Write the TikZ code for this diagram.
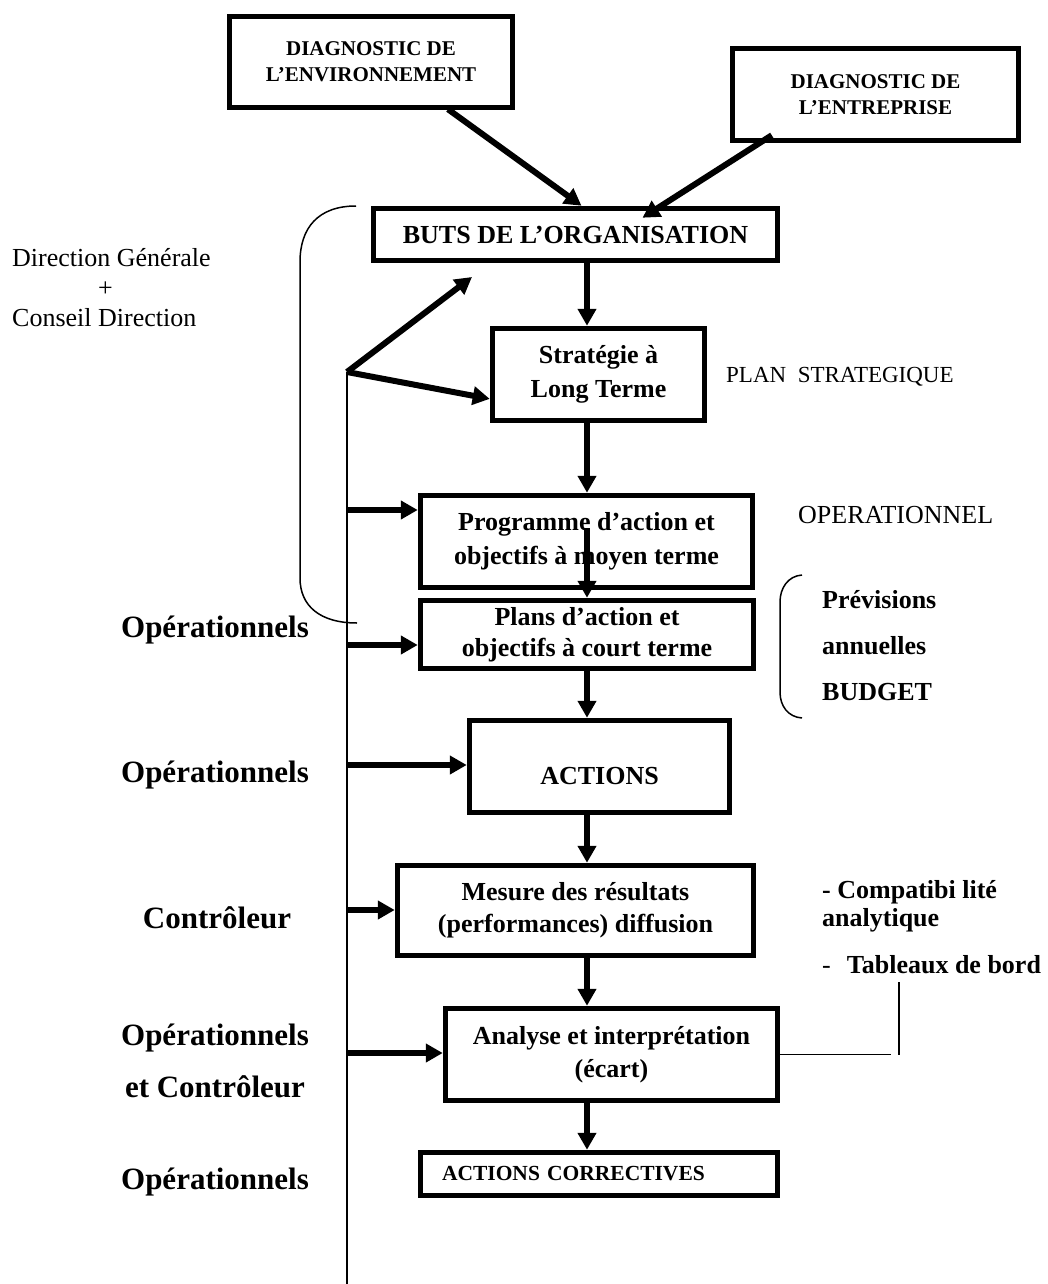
\documentclass[tikz,border=0pt]{standalone}
\usepackage{fontspec}
\setmainfont{Liberation Serif}
\usetikzlibrary{arrows.meta,positioning,calc}

\begin{document}
\begin{tikzpicture}[
    x=1pt, y=-1pt,
    box/.style={draw, line width=5.5pt, align=center, inner sep=0pt, font=\bfseries\fontsize{26}{33}\selectfont},
    diag/.style={draw, line width=5.5pt, align=center, inner sep=0pt, font=\bfseries\fontsize{21}{26}\selectfont},
    who/.style={font=\bfseries\fontsize{31}{52}\selectfont, align=center},
    note/.style={anchor=west, align=left, inner sep=0pt},
    arr/.style={-{Triangle[length=17pt,width=18pt]}, line width=6pt},
    fine/.style={line width=1.5pt},
]
\useasboundingbox (0,0) rectangle (1047,1284);

\node[diag, minimum width=283pt, minimum height=91pt] (env) at (371,62) {DIAGNOSTIC DE\\L’ENVIRONNEMENT};
\node[diag, minimum width=286pt, minimum height=92pt] (ent) at (875.5,94.5) {DIAGNOSTIC DE\\L’ENTREPRISE};
\node[box, minimum width=404pt, minimum height=52pt] (buts) at (575.5,234.5) {BUTS DE L’ORGANISATION};
\node[box, minimum width=212pt, minimum height=92pt, font=\bfseries\fontsize{26}{34}\selectfont] (strat) at (598.5,374.5) {Stratégie à\\Long Terme};
\node[box, minimum width=332pt, minimum height=92pt, font=\bfseries\fontsize{26}{34}\selectfont] (prog) at (586.5,541.5) {Programme d’action et\\objectifs à moyen terme};
\node[box, minimum width=333pt, minimum height=68pt, font=\bfseries\fontsize{26}{31}\selectfont] (plans) at (587,634.5) {Plans d’action et\\objectifs à court terme};
\node[box, minimum width=260pt, minimum height=92pt] (act) at (599.5,766.5) {\raisebox{-10pt}[\height][\depth]{ACTIONS}};
\node[box, minimum width=356pt, minimum height=90pt, font=\bfseries\fontsize{26}{32}\selectfont] (mes) at (575.5,910.5) {Mesure des résultats\\(performances) diffusion};
\node[box, minimum width=332pt, minimum height=92pt] (ana) at (611.5,1054.5) {Analyse et interprétation\\(écart)};
\node[box, minimum height=43pt, text width=314pt, align=left, inner xsep=21.5pt, font=\bfseries\fontsize{21.5}{24}\selectfont] (corr) at (599,1174) {ACTIONS CORRECTIVES};

\node[note, font=\fontsize{26}{30}\selectfont] (dg) at (12,288) {Direction Générale\\\hspace*{86pt}+\\Conseil Direction};
\node[note, font=\fontsize{23}{24}\selectfont] (ps) at (726,377) {PLAN\ \ STRATEGIQUE};
\node[note, font=\fontsize{26}{30}\selectfont] (opn) at (798,515) {OPERATIONNEL};
\node[note, font=\bfseries\fontsize{26}{46}\selectfont] (prev) at (822,646) {Prévisions\\annuelles\\BUDGET};
\node[note, font=\bfseries\fontsize{26}{28}\selectfont] (cpt) at (822,906) {- Compatibi lité\\analytique};
\node[note, font=\bfseries\fontsize{26}{30}\selectfont] (tdb) at (822,965) {\mdseries-\hspace{16pt}\bfseries Tableaux de bord};

\node[who] (op1) at (215,630) {Opérationnels};
\node[who] (op2) at (215,775) {Opérationnels};
\node[who] (ctl) at (217,918) {Contrôleur};
\node[who] (opc) at (215,1061) {Opérationnels\\et Contrôleur};
\node[who] (op3) at (215,1182) {Opérationnels};

\coordinate (ax) at (587,0);
\coordinate (pm) at (587,528);
\coordinate (fb) at (347,372);
\coordinate (fbend) at (347,1284);
\coordinate (butsin) at (472,277);
\coordinate (tb) at (899,982);

\draw[arr] ([xshift=77pt,yshift=1pt]env.south) -- ([xshift=6pt]buts.north);
\draw[arr] ([xshift=42pt,yshift=8pt]ent.south west) -- ([xshift=67pt,yshift=-12pt]buts.north);
\draw[arr] (buts.south -| ax) -- (strat.north -| ax);
\draw[arr] (strat.south -| ax) -- (prog.north -| ax);
\draw[arr] (pm) -- (pm |- plans.north);
\draw[arr] (plans.south -| ax) -- (act.north -| ax);
\draw[arr] (act.south -| ax) -- (mes.north -| ax);
\draw[arr] (mes.south -| ax) -- (ana.north -| ax);
\draw[arr] (ana.south -| ax) -- (corr.north -| ax);

\draw[line width=2pt] (fb) -- (fbend);
\draw[arr] (fb) -- (butsin);
\draw[arr] (fb) -- ($(strat.south west)!0.25!(strat.north west)$);
\foreach \b/\y in {prog/510, plans/645, act/765, mes/910, ana/1053} {
  \coordinate (f\b) at (347,\y);
  \draw[arr] (f\b) -- (f\b -| \b.west);
}

\draw[fine] (356,206) .. controls (318,206) and (300,228) .. (300,262) -- (300,578) .. controls (300,606) and (320,623) .. (357,623);
\draw[fine] (802,575) .. controls (788,576) and (780,588) .. (780,602) -- (780,692) .. controls (780,706) and (788,717) .. (802,718);
\draw[fine] (ana.east) -- ++(111,0);
\draw[fine] (tb) -- ++(0,73);
\end{tikzpicture}
\end{document}
